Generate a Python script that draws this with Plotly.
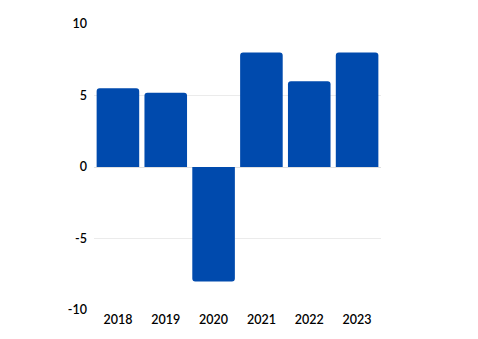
import plotly.graph_objects as go

years = ["2018", "2019", "2020", "2021", "2022", "2023"]
values = [5.5, 5.2, -8.0, 8.0, 6.0, 8.0]
y_ticks = [-10, -5, 0, 5, 10]
y_tick_labels = ["-10", "-5", "0", "5", "10"]

fig = go.Figure(go.Bar(
    x=years, y=values,
    marker=dict(color="#004AAD", line=dict(width=0)),
))
fig.update_layout(
    width=478, height=339,
    margin=dict(l=94, r=97, t=24, b=29),
    paper_bgcolor="white", plot_bgcolor="white",
    bargap=0.11,
    barcornerradius=3,
    showlegend=False,
    font=dict(family="Lato", size=12.5, color="#000000"),
)
fig.update_xaxes(showgrid=False, ticks="", tickfont=dict(size=12.5, weight=600))
fig.update_yaxes(range=[-10, 10], tickvals=y_ticks, ticktext=y_tick_labels,
                 showgrid=True, tickfont=dict(size=12.5, weight=600),
                 gridcolor="#ebebeb", gridwidth=1, zeroline=True,
                 zerolinecolor="#e0e0e0", zerolinewidth=1, ticks="",
                 ticklabelstandoff=6)
fig.write_html("out.html")
